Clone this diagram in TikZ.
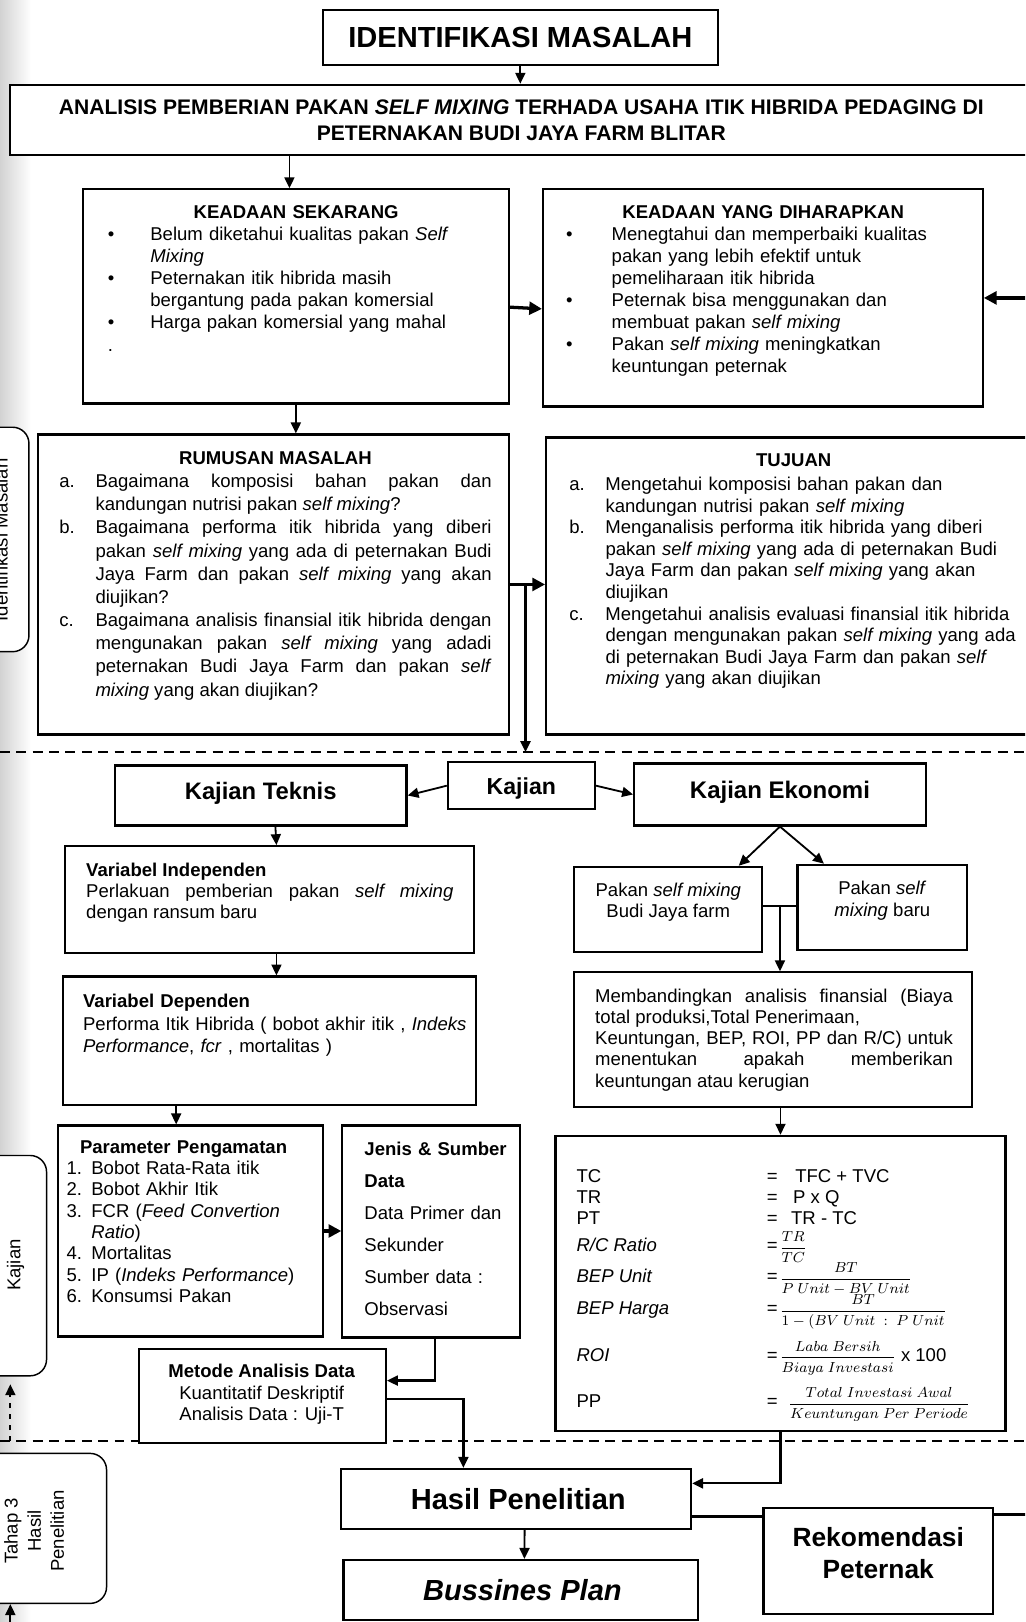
\documentclass[tikz,border=0pt]{standalone}
\usepackage[no-math]{fontspec}
\setmainfont{Liberation Sans}
\usepackage{amsmath}
\usetikzlibrary{arrows.meta,fit,calc}

\tolerance=10000
\hbadness=10000
\newlength{\itemind}
\newcommand{\itm}[2]{\par\noindent\hangindent=\itemind\hangafter=1\makebox[\itemind][l]{#1}#2}
\newcommand{\fracsz}{\fontsize{8}{9.6}\selectfont}

\tikzset{
    box/.style={draw, line width=1.2pt, inner sep=0pt, fill=white},
    sidebox/.style={draw, line width=0.8pt, rounded corners=9pt, inner sep=0pt, fill=white},
    txt/.style={anchor=north west, inner sep=0pt, font=\fontsize{10.2}{#1}\selectfont},
    txt/.default=12.2,
    ftxt/.style={anchor=base west, inner sep=0pt, font=\fontsize{10.2}{12}\selectfont},
    arr/.style={line width=1pt, -{Triangle[length=6pt,width=5.5pt]}},
    fatarr/.style={line width=1.8pt, -{Triangle[length=7pt,width=7pt]}},
    fatline/.style={line width=2pt},
    divider/.style={line width=1.1pt, dash pattern=on 5.5pt off 3.5pt}
}

\begin{document}
\begin{tikzpicture}[x=0.02cm, y=-0.02cm]
    \useasboundingbox (0,0) rectangle (991,1568);
    \clip (0,0) rectangle (991,1568);
    \fill[white] (0,0) rectangle (991,1568);
    \shade[left color=gray!35, right color=white] (0,0) rectangle (30,1568);

    % side labels
    \node[sidebox, fit={(-40,413) (28,630)}] (side1) {};
    \node[rotate=90, font=\fontsize{10.2}{12}\selectfont] (side1-t) at (1,522) {Identifikasi Masalah};
    \node[sidebox, fit={(-40,1117) (45,1330)}] (side2) {};
    \node[rotate=90, font=\fontsize{10.2}{12}\selectfont] (side2-t) at (15,1223) {Kajian};
    \node[sidebox, fit={(-40,1405) (103,1550)}] (side3) {};
    \node[rotate=90, align=center, font=\fontsize{10.2}{12.75}\selectfont] (side3-t) at (33,1480) {Tahap 3\\Hasil\\Penelitian};
    \coordinate (back2) at (10,1393);
    \draw[arr, dashed] (back2) -- ([yshift=-0.15cm]back2 |- side2.south);
    \coordinate (back3) at (10,1580);
    \draw[arr] (back3) -- (back3 |- side3.south);

    % identifikasi masalah
    \node[box, fit={(312,10) (694,63)}] (im) {};
    \node[font=\fontsize{16}{19}\selectfont\bfseries] (im-t) at (im.center) {IDENTIFIKASI MASALAH};
    \node[box, fit={(10,82) (998,150)}] (an) {};
    \node[align=center, font=\fontsize{11.6}{14.2}\selectfont\bfseries] (an-t) at (504,116)
        {ANALISIS PEMBERIAN PAKAN \textit{SELF MIXING} TERHADA USAHA ITIK HIBRIDA PEDAGING DI\\PETERNAKAN BUDI JAYA FARM BLITAR};
    \draw[arr] (im.south) -- (im.south |- an.north);

    \node[box, fit={(80,183) (492,390)}] (ks) {};
    \node[txt=12.2, text width=7.28cm, align=left] (ks-t) at (104,198) {\setlength{\itemind}{0.82cm}%
        {\centering\bfseries KEADAAN SEKARANG\par}
        \itm{\textbullet}{Belum diketahui kualitas pakan \textit{Self}\newline\textit{Mixing}}
        \itm{\textbullet}{Peternakan itik hibrida masih\newline bergantung pada pakan komersial}
        \itm{\textbullet}{Harga pakan komersial yang mahal}
        \par\noindent .\par};
    \node[box, fit={(525,183) (950,393)}] (kyd) {};
    \node[txt=12.1, text width=7.62cm, align=left] (kyd-t) at (547,198) {\setlength{\itemind}{0.88cm}%
        {\centering\bfseries KEADAAN YANG DIHARAPKAN\par}
        \itm{\textbullet}{Menegtahui dan memperbaiki kualitas\newline pakan yang lebih efektif untuk\newline pemeliharaan itik hibrida}
        \itm{\textbullet}{Peternak bisa menggunakan dan\newline membuat pakan \textit{self mixing}}
        \itm{\textbullet}{Pakan \textit{self mixing} meningkatkan\newline keuntungan peternak}\par};
    \coordinate (ks-in) at ($(ks.north west)!0.485!(ks.north east)$);
    \draw[arr] (an.south -| ks-in) -- (ks-in);
    \draw[fatarr] ($(ks.north east)!0.55!(ks.south east)$) -- ($(kyd.north west)!0.55!(kyd.south west)$);
    \coordinate (right-in) at (1000,288);
    \draw[fatarr] (right-in) -- (kyd.east |- right-in);

    % rumusan masalah dan tujuan
    \node[box, fit={(37,420) (492,710)}] (rm) {};
    \node[txt=12.75, text width=8.36cm, align=justify] (rm-t) at (57,436) {\setlength{\itemind}{0.7cm}%
        {\centering\bfseries RUMUSAN MASALAH\par}
        \itm{a.}{Bagaimana komposisi bahan pakan dan\linebreak kandungan nutrisi pakan \textit{self mixing}?}
        \itm{b.}{Bagaimana performa itik hibrida yang diberi\linebreak pakan \textit{self mixing} yang ada di peternakan Budi\linebreak Jaya Farm dan pakan \textit{self mixing} yang akan\linebreak diujikan?}
        \itm{c.}{Bagaimana analisis finansial itik hibrida dengan\linebreak mengunakan pakan \textit{self mixing} yang adadi\linebreak peternakan Budi Jaya Farm dan pakan \textit{self}\linebreak \textit{mixing} yang akan diujikan?}\par};
    \node[box, fit={(528,423) (1000,710)}] (tj) {};
    \node[txt=11.85, text width=8.68cm, align=left] (tj-t) at (550,438) {\setlength{\itemind}{0.7cm}%
        {\centering\bfseries TUJUAN\par}\vspace{1.7pt}
        \itm{a.}{Mengetahui komposisi bahan pakan dan\newline kandungan nutrisi pakan \textit{self mixing}}
        \itm{b.}{Menganalisis performa itik hibrida yang diberi\newline pakan \textit{self mixing} yang ada di peternakan Budi\newline Jaya Farm dan pakan \textit{self mixing} yang akan\newline diujikan}
        \itm{c.}{Mengetahui analisis evaluasi finansial itik hibrida\newline dengan mengunakan pakan \textit{self mixing} yang ada\newline di peternakan Budi Jaya Farm dan pakan \textit{self}\newline\textit{mixing} yang akan diujikan}\par};
    \draw[arr] (ks.south) -- (ks.south |- rm.north);
    \draw[fatarr] (rm.east) -- (rm.east -| tj.west);
    \coordinate (kj-in) at (508,727);
    \draw[arr, line width=1.2pt] (rm.east -| kj-in) -- (kj-in);

    \draw[divider] (0,727) -- (991,727);
    \draw[divider] (0,1393) -- (991,1393);

    % kajian
    \node[box, fit={(111,740) (393,798)}] (kt) {};
    \node[font=\fontsize{13.1}{15}\selectfont\bfseries] (kt-t) at (252,767) {Kajian Teknis};
    \node[box, fit={(433,737) (575,782)}] (kj) {};
    \node[font=\fontsize{12.7}{15}\selectfont\bfseries] (kj-t) at (504,762) {Kajian};
    \node[box, fit={(613,738) (895,798)}] (ke) {};
    \node[font=\fontsize{13.2}{15}\selectfont\bfseries] (ke-t) at (754,766) {Kajian Ekonomi};
    \draw[arr] (kj.west) -- (kt.east);
    \draw[arr] (kj.east) -- (ke.west);

    % kajian teknis
    \node[box, fit={(63,818) (458,921)}] (vi) {};
    \node[txt=11.6, text width=7.1cm, align=justify] (vi-t) at (83,834) {\noindent\textbf{Variabel Independen}\newline
        Perlakuan pemberian pakan \textit{self mixing}\linebreak dengan ransum baru\par};
    \node[box, fit={(61,944) (460,1068)}] (vd) {};
    \node[txt=12.2, text width=7.6cm, align=left] (vd-t) at (80,961) {\textbf{Variabel Dependen}\\
        Performa Itik Hibrida ( bobot akhir itik , \textit{Indeks}\\\textit{Performance}, \textit{fcr} , mortalitas )};
    \coordinate (vi-in) at ($(vi.north west)!0.517!(vi.north east)$);
    \draw[arr] ($(kt.south west)!0.55!(kt.south east)$) -- (vi-in);
    \draw[arr] (vi.south -| vi-in) -- (vd.north -| vi-in);

    \node[box, fit={(56,1088) (312,1292)}] (param) {};
    \node[txt=11.75, text width=4.8cm, align=left] (param-t) at (64,1102) {\setlength{\itemind}{0.48cm}%
        \noindent\hspace*{0.26cm}\textbf{Parameter Pengamatan}
        \itm{1.}{Bobot Rata-Rata itik}
        \itm{2.}{Bobot Akhir Itik}
        \itm{3.}{FCR (\textit{Feed Convertion}\newline\textit{Ratio})}
        \itm{4.}{Mortalitas}
        \itm{5.}{IP (\textit{Indeks Performance})}
        \itm{6.}{Konsumsi Pakan}\par};
    \coordinate (param-in) at ($(param.north west)!0.447!(param.north east)$);
    \draw[arr] (vd.south -| param-in) -- (param-in);

    \node[box, fit={(331,1088) (503,1293)}] (jsd) {};
    \node[txt=17.6, text width=3cm, align=left] (jsd-t) at (352,1104) {\textbf{Jenis \& Sumber}\\\textbf{Data}\\
        Data Primer dan\\Sekunder\\Sumber data :\\Observasi};
    \draw[fatarr] (param.east) -- (param.east -| jsd.west);

    \node[box, fit={(134,1304) (373,1395)}] (mad) {};
    \node[align=center, font=\fontsize{10.2}{11.9}\selectfont] (mad-t) at (253,1348)
        {\textbf{Metode Analisis Data}\\Kuantitatif Deskriptif\\Analisis Data : Uji-T};
    \draw[arr, line width=1.2pt] ($(jsd.south west)!0.52!(jsd.south east)$) |- ($(mad.north east)!0.34!(mad.south east)$);

    % kajian ekonomi
    \node[box, fit={(555,838) (737,920)}] (pbj) {};
    \node[anchor=north, inner sep=0pt, align=center, font=\fontsize{10.2}{12}\selectfont] (pbj-t) at (646,853)
        {Pakan \textit{self mixing}\\Budi Jaya farm};
    \node[box, fit={(771,836) (935,918)}] (pbr) {};
    \node[anchor=north, inner sep=0pt, align=center, font=\fontsize{10.2}{12.5}\selectfont] (pbr-t) at (853,851)
        {Pakan \textit{self}\\\textit{mixing} baru};
    \draw[arr] (ke.south) -- ($(pbj.north west)!0.87!(pbj.north east)$);
    \draw[arr] (ke.south) -- ($(pbr.north west)!0.16!(pbr.north east)$);

    \node[box, fit={(555,940) (940,1070)}] (mb) {};
    \node[txt=11.6, text width=6.92cm, align=justify] (mb-t) at (575,956) {\noindent Membandingkan analisis finansial (Biaya\linebreak
        total produksi,Total Penerimaan,\newline Keuntungan, BEP, ROI, PP dan R/C) untuk\linebreak
        menentukan apakah memberikan\linebreak keuntungan atau kerugian\par};
    \coordinate (pb-l) at ($(pbj.north east)!0.46!(pbj.south east)$);
    \coordinate (pb-r) at (pb-l -| pbr.west);
    \coordinate (pb-m) at ($(pb-l)!0.5!(pb-r)$);
    \draw[line width=1pt] (pb-l) -- (pb-r);
    \draw[arr] (pb-m) -- (pb-m |- mb.north);

    \node[box, fit={(537,1098) (972,1383)}] (fb) {};
    \draw[arr] (fb.north |- mb.south) -- (fb.north);
    \node[ftxt] (tc-l) at (557,1143) {TC};
    \node[ftxt] (tc-r) at (741,1143) {=\hspace{0.34cm}TFC + TVC};
    \node[ftxt] (tr-l) at (557,1163) {TR};
    \node[ftxt] (tr-r) at (741,1163) {=\hspace{0.3cm}P x Q};
    \node[ftxt] (pt-l) at (557,1184) {PT};
    \node[ftxt] (pt-r) at (741,1184) {=\hspace{0.26cm}TR - TC};
    \node[ftxt] (rc-l) at (557,1210) {\textit{R/C Ratio}};
    \node[ftxt] (rc-r) at (741,1210) {=\hspace{1pt}\fracsz$\dfrac{TR}{TC}$};
    \node[ftxt] (bepu-l) at (557,1240) {\textit{BEP Unit}};
    \node[ftxt] (bepu-r) at (741,1240) {=\hspace{1pt}\fracsz$\dfrac{BT}{P\ Unit-BV\ Unit}$};
    \node[ftxt] (beph-l) at (557,1271) {\textit{BEP Harga}};
    \node[ftxt] (beph-r) at (741,1271) {=\hspace{1pt}\fracsz$\dfrac{BT}{1-(BV\ Unit\ :\ P\ Unit}$};
    \node[ftxt] (roi-l) at (557,1316) {\textit{ROI}};
    \node[ftxt] (roi-r) at (741,1316) {=\hspace{1pt}{\fracsz$\dfrac{Laba\ Bersih}{Biaya\ Investasi}$} x 100};
    \node[ftxt] (payback-l) at (557,1361) {PP};
    \node[ftxt] (payback-r) at (741,1361) {=\hspace{0.2cm}\fracsz$\dfrac{Total\ Investasi\ Awal}{Keuntungan\ Per\ Periode}$};

    % hasil penelitian
    \node[box, fit={(330,1420) (668,1478)}] (hp) {};
    \node[font=\fontsize{16}{19}\selectfont\bfseries] (hp-t) at (501,1449) {Hasil Penelitian};
    \node[box, fit={(332,1508) (675,1566)}] (bp) {};
    \node[font=\fontsize{16}{19}\selectfont\bfseries\itshape] (bp-t) at (505,1537) {Bussines Plan};
    \node[box, fit={(738,1458) (960,1560)}] (rp) {};
    \node[align=center, font=\fontsize{14.5}{17.6}\selectfont\bfseries] (rp-t) at (849,1501) {Rekomendasi\\Peternak};
    \draw[arr, line width=1.2pt] ($(mad.north east)!0.53!(mad.south east)$) -| ($(hp.north west)!0.35!(hp.north east)$);
    \draw[arr, line width=1.2pt] (fb.south) |- ($(hp.north east)!0.25!(hp.south east)$);
    \draw[arr] ($(hp.south west)!0.524!(hp.south east)$) -- ($(bp.north west)!0.51!(bp.north east)$);
    \coordinate (hp-out) at ($(hp.north east)!0.78!(hp.south east)$);
    \coordinate (rp-out) at (1000,1464);
    \draw[fatline] (hp-out) -- (hp-out -| rp.west);
    \draw[fatline] (rp.east |- rp-out) -- (rp-out);
\end{tikzpicture}
\end{document}
